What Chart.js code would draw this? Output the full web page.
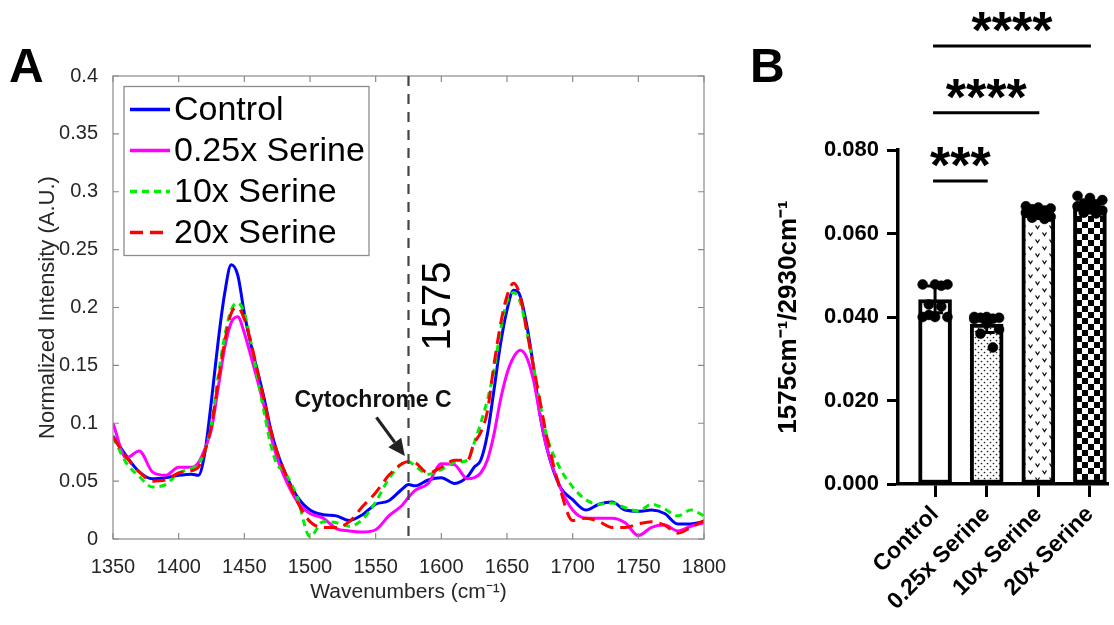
<!DOCTYPE html>
<html><head><meta charset="utf-8">
<script src="https://cdn.jsdelivr.net/npm/chart.js@4.4.1/dist/chart.umd.min.js"></script>
<style>
html,body{margin:0;padding:0;background:#fff;width:1114px;height:625px;overflow:hidden}
#a{position:absolute;left:0;top:0}
#b{position:absolute;left:740px;top:0}
</style></head><body>
<canvas id="a" width="735" height="625"></canvas>
<canvas id="b" width="374" height="625"></canvas>
<script>
// ---------------- Panel A data ----------------
const wavenumbers = [1350,1360,1370,1380,1390,1400,1410,1415,1420,1425,1430,1435,1440,1445,1450,1455,1460,1465,1470,1475,
  1480,1490,1500,1510,1520,1530,1540,1550,1560,1570,1575,1580,1590,1600,1610,1620,1625,1630,1635,1640,
  1645,1650,1655,1660,1665,1670,1675,1680,1690,1700,1710,1720,1730,1740,1750,1760,1770,1780,1790,1800];
const control = [0.089,0.072,0.058,0.052,0.053,0.055,0.056,0.055,0.075,0.120,0.170,0.212,0.237,0.228,0.195,0.168,0.145,0.122,0.095,0.075,
  0.060,0.037,0.025,0.021,0.020,0.016,0.021,0.030,0.033,0.043,0.047,0.046,0.051,0.053,0.048,0.054,0.062,0.068,0.090,0.128,
  0.168,0.198,0.215,0.210,0.185,0.150,0.108,0.080,0.046,0.034,0.025,0.030,0.032,0.025,0.024,0.025,0.022,0.013,0.013,0.015];
const serine025 = [0.100,0.070,0.076,0.058,0.055,0.062,0.062,0.066,0.078,0.095,0.130,0.165,0.187,0.192,0.178,0.158,0.137,0.115,0.090,0.070,
  0.055,0.033,0.022,0.018,0.009,0.007,0.006,0.008,0.020,0.029,0.036,0.042,0.048,0.065,0.064,0.052,0.053,0.057,0.068,0.090,
  0.120,0.143,0.157,0.163,0.157,0.138,0.108,0.080,0.046,0.025,0.018,0.018,0.018,0.014,0.003,0.010,0.012,0.007,0.011,0.014];
const serine10 = [0.088,0.066,0.054,0.045,0.047,0.057,0.061,0.065,0.076,0.100,0.140,0.175,0.198,0.204,0.195,0.170,0.140,0.110,0.082,0.064,
  0.059,0.037,0.002,0.015,0.014,0.011,0.017,0.032,0.052,0.065,0.067,0.063,0.056,0.060,0.066,0.068,0.083,0.100,0.120,0.145,
  0.180,0.205,0.213,0.205,0.180,0.150,0.118,0.090,0.062,0.045,0.034,0.030,0.031,0.027,0.024,0.030,0.026,0.020,0.025,0.020];
const serine20 = [0.088,0.071,0.058,0.050,0.051,0.057,0.059,0.062,0.076,0.098,0.135,0.170,0.195,0.200,0.190,0.170,0.145,0.120,0.095,0.075,
  0.060,0.033,0.015,0.010,0.010,0.015,0.028,0.040,0.055,0.065,0.067,0.066,0.057,0.062,0.068,0.068,0.083,0.092,0.110,0.150,
  0.185,0.210,0.221,0.210,0.180,0.150,0.120,0.090,0.045,0.016,0.018,0.015,0.010,0.010,0.013,0.015,0.012,0.005,0.010,0.016];
const seriesLabels = ['Control','0.25x Serine','10x Serine','20x Serine'];
const markerWavenumber = 1575;

// ---------------- Panel B data ----------------
const groups = ['Control','0.25x Serine','10x Serine','20x Serine'];
const barMeans = [0.0442, 0.0383, 0.0646, 0.0662];
const barErrors = [0.0032, 0.0020, 0.0010, 0.0013];
const ptsControl = [0.0478,0.0478,0.0478,0.0430,0.0425,0.0400,0.0400,0.0400,0.0405,0.0475];
const ptsSerine025 = [0.0400,0.0400,0.0398,0.0398,0.0396,0.0395,0.0385,0.0370,0.0360,0.0327];
const ptsSerine10 = [0.0665,0.0662,0.0660,0.0658,0.0655,0.0650,0.0645,0.0640,0.0638,0.0635];
const ptsSerine20 = [0.0690,0.0685,0.0680,0.0672,0.0670,0.0665,0.0660,0.0655,0.0650,0.0648];
const yTicksB = [0, 0.02, 0.04, 0.06, 0.08];
const brackets = [ {from:0, to:1, y:0.0726, label:'***'}, {from:0, to:2, y:0.0889, label:'****'}, {from:0, to:3, y:0.1049, label:'****'} ];

const FAM = "'Liberation Sans', Arial, Helvetica, sans-serif";

// ---------------- Panel A ----------------
const xy = arr => arr.map((v,i)=>({x:wavenumbers[i], y:v}));
const styleA = [
  {color:'#0000ff', dash:[], order:4},
  {color:'#ff00ff', dash:[], order:3},
  {color:'#00ee00', dash:[7,5], order:2},
  {color:'#ff0000', dash:[13,7], order:1}
];
const seriesA = [control, serine025, serine10, serine20];

const annotA = {
  id:'annotA',
  afterDraw(chart){
    const ctx = chart.ctx, ca = chart.chartArea, xs = chart.scales.x, ys = chart.scales.y;
    ctx.save();
    ctx.strokeStyle = '#8a8a8a'; ctx.lineWidth = 1.2; ctx.setLineDash([]);
    ctx.strokeRect(ca.left, ca.top, ca.right-ca.left, ca.bottom-ca.top);
    ctx.beginPath();
    xs.ticks.forEach(t=>{ const px = xs.getPixelForValue(t.value);
      ctx.moveTo(px, ca.bottom); ctx.lineTo(px, ca.bottom-6);
      ctx.moveTo(px, ca.top); ctx.lineTo(px, ca.top+6); });
    ys.ticks.forEach(t=>{ const py = ys.getPixelForValue(t.value);
      ctx.moveTo(ca.left, py); ctx.lineTo(ca.left+6, py);
      ctx.moveTo(ca.right, py); ctx.lineTo(ca.right-6, py); });
    ctx.stroke();
    const mx = xs.getPixelForValue(markerWavenumber);
    ctx.strokeStyle = '#444'; ctx.lineWidth = 2.2; ctx.setLineDash([10,8]);
    ctx.beginPath(); ctx.moveTo(mx, ca.top); ctx.lineTo(mx, ca.bottom); ctx.stroke();
    ctx.setLineDash([]);
    ctx.save();
    ctx.translate(xs.getPixelForValue(1597), ys.getPixelForValue(0.2012));
    ctx.rotate(-Math.PI/2);
    ctx.fillStyle = '#000'; ctx.font = '40px ' + FAM; ctx.textAlign='center'; ctx.textBaseline='middle';
    ctx.fillText(String(markerWavenumber), 0, 2);
    ctx.restore();
    ctx.fillStyle = '#111'; ctx.font = 'bold 23px ' + FAM; ctx.textAlign='center'; ctx.textBaseline='alphabetic';
    ctx.fillText('Cytochrome C', xs.getPixelForValue(1548), ys.getPixelForValue(0.1138));
    const x1 = xs.getPixelForValue(1550.6), y1 = ys.getPixelForValue(0.1051);
    const x2 = xs.getPixelForValue(1572.2), y2 = ys.getPixelForValue(0.0716);
    const ang = Math.atan2(y2-y1, x2-x1), hl = 17, hw = 8;
    const bx = x2 - hl*Math.cos(ang), by = y2 - hl*Math.sin(ang);
    ctx.strokeStyle = '#222'; ctx.fillStyle = '#222'; ctx.lineWidth = 3.2;
    ctx.beginPath(); ctx.moveTo(x1,y1); ctx.lineTo(bx,by); ctx.stroke();
    ctx.beginPath(); ctx.moveTo(x2,y2);
    ctx.lineTo(bx + hw*Math.sin(ang), by - hw*Math.cos(ang));
    ctx.lineTo(bx - hw*Math.sin(ang), by + hw*Math.cos(ang));
    ctx.closePath(); ctx.fill();
    const lx = ca.left + 11, ly = ca.top + 10.5, lw = 245, lh = 169;
    ctx.fillStyle = '#fff'; ctx.fillRect(lx, ly, lw, lh);
    ctx.strokeStyle = '#8c8c8c'; ctx.lineWidth = 1.3; ctx.strokeRect(lx, ly, lw, lh);
    chart.data.datasets.forEach((ds, i)=>{
      const cy = ly + 23 + i*41;
      ctx.strokeStyle = ds.borderColor; ctx.lineWidth = 3.5; ctx.setLineDash(ds.borderDash || []);
      ctx.beginPath(); ctx.moveTo(lx+6, cy); ctx.lineTo(lx+46, cy); ctx.stroke();
      ctx.setLineDash([]);
      ctx.fillStyle = '#000'; ctx.font = '34px ' + FAM; ctx.textAlign='left'; ctx.textBaseline='middle';
      ctx.fillText(ds.label, lx+50, cy+1);
    });
    ctx.fillStyle = '#000'; ctx.font = 'bold 48px ' + FAM; ctx.textAlign='left'; ctx.textBaseline='alphabetic';
    ctx.fillText('A', 9, 82);
    ctx.restore();
  }
};

new Chart(document.getElementById('a'), {
  type:'line',
  data:{ datasets: seriesA.map((s,i)=>({
    label: seriesLabels[i], data: xy(s), borderColor: styleA[i].color, borderWidth:3,
    borderDash: styleA[i].dash, order: styleA[i].order, pointRadius:0, fill:false,
    cubicInterpolationMode:'monotone'
  })) },
  options:{
    responsive:false, animation:false, devicePixelRatio:1,
    layout:{padding:{left:0, top:76, right:31, bottom:0}},
    plugins:{legend:{display:false}, tooltip:{enabled:false}},
    scales:{
      x:{ type:'linear', min:1350, max:1800,
        ticks:{stepSize:50, autoSkip:false, maxRotation:0, color:'#262626', font:{family:FAM, size:20}, padding:8, callback:v=>String(v)},
        grid:{display:false}, border:{display:false},
        title:{display:true, text:'Wavenumbers (cm⁻¹)', color:'#262626', font:{family:FAM, size:21}, padding:{top:0, bottom:20}},
        afterFit:s=>{ s.height = 86; } },
      y:{ min:0, max:0.4,
        ticks:{stepSize:0.05, color:'#262626', font:{family:FAM, size:20}, padding:7, callback:v=>String(+(+v).toFixed(2))},
        grid:{display:false}, border:{display:false},
        title:{display:true, text:'Normalized Intensity (A.U.)', color:'#262626', font:{family:FAM, size:22}, padding:{top:35, bottom:0}},
        afterFit:s=>{ s.width = 113; } }
    }
  },
  plugins:[annotA]
});

// ---------------- Panel B ----------------
function makePattern(kind){
  const c = document.createElement('canvas');
  const g = c.getContext('2d');
  if (kind === 'dots'){
    c.width = 6; c.height = 6; g.fillStyle = '#fff'; g.fillRect(0,0,6,6);
    g.fillStyle = '#222';
    g.beginPath(); g.arc(1.5,1.5,0.85,0,Math.PI*2); g.fill();
    g.beginPath(); g.arc(4.5,4.5,0.85,0,Math.PI*2); g.fill();
  } else if (kind === 'chevron'){
    c.width = 14; c.height = 14; g.fillStyle = '#fff'; g.fillRect(0,0,14,14);
    g.strokeStyle = '#111'; g.lineWidth = 1.3;
    [[3.5,3],[10.5,10]].forEach(([x,y])=>{ g.beginPath(); g.moveTo(x-2,y-1.5); g.lineTo(x,y+1.5); g.lineTo(x+2,y-1.5); g.stroke(); });
  } else {
    c.width = 12; c.height = 12; g.fillStyle = '#fff'; g.fillRect(0,0,12,12);
    g.fillStyle = '#000'; g.fillRect(0,0,6,6); g.fillRect(6,6,6,6);
  }
  return document.getElementById('b').getContext('2d').createPattern(c, 'repeat');
}
const barFills = ['#ffffff', makePattern('dots'), makePattern('chevron'), makePattern('checker')];
const jitter = [-0.24, 0, 0.24, -0.12, 0.12, -0.24, 0, 0.24, -0.12, 0.12];
const replicateSets = [ptsControl, ptsSerine025, ptsSerine10, ptsSerine20];
const replicatePoints = [];
replicateSets.forEach((arr, gi)=> arr.forEach((v, j)=> replicatePoints.push({x: gi + jitter[j % jitter.length], y: v})));

const annotB = {
  id:'annotB',
  afterDatasetDraw(chart, args){
    if (args.index !== 0) return;
    const ctx = chart.ctx, xs = chart.scales.x, ys = chart.scales.y;
    ctx.save(); ctx.strokeStyle = '#000'; ctx.lineWidth = 3;
    barMeans.forEach((m,i)=>{
      const px = xs.getPixelForValue(i), yt = ys.getPixelForValue(m + barErrors[i]), yb = ys.getPixelForValue(m - barErrors[i]);
      ctx.beginPath(); ctx.moveTo(px, yb); ctx.lineTo(px, yt);
      ctx.moveTo(px-8, yt); ctx.lineTo(px+8, yt);
      ctx.moveTo(px-8, yb); ctx.lineTo(px+8, yb); ctx.stroke();
    });
    ctx.restore();
  },
  afterDraw(chart){
    const ctx = chart.ctx, xs = chart.scales.x, ys = chart.scales.y;
    ctx.save();
    ctx.strokeStyle = '#000'; ctx.fillStyle = '#000'; ctx.lineWidth = 3;
    brackets.forEach(b=>{
      const x1 = xs.getPixelForValue(b.from) - 2, x2 = xs.getPixelForValue(b.to) + 1, py = ys.getPixelForValue(b.y);
      ctx.beginPath(); ctx.moveTo(x1, py); ctx.lineTo(x2, py); ctx.stroke();
      ctx.font = 'bold 52px ' + FAM; ctx.textAlign = 'center'; ctx.textBaseline = 'middle';
      ctx.fillText(b.label, (x1+x2)/2, py - 12);
    });
    ctx.font = 'bold 48px ' + FAM; ctx.textAlign = 'left'; ctx.textBaseline = 'alphabetic';
    ctx.fillText('B', 10, 82);
    ctx.restore();
  }
};

new Chart(document.getElementById('b'), {
  type:'bar',
  data:{ datasets:[
    { type:'bar', label:'Mean', data: barMeans.map((m,i)=>({x:i, y:m})), backgroundColor: barFills,
      borderColor:'#000', borderWidth:4, borderSkipped:false, barThickness:33, order:2 },
    { type:'scatter', label:'Replicates', data: replicatePoints, pointRadius:5, pointBackgroundColor:'#000',
      pointBorderColor:'#000', pointBorderWidth:0.5, order:1 }
  ]},
  options:{
    responsive:false, animation:false, devicePixelRatio:1,
    layout:{padding:{left:0, top:150, right:0, bottom:0}},
    plugins:{legend:{display:false}, tooltip:{enabled:false}},
    scales:{
      x:{ type:'linear', min:-0.718, max:3.36, offset:false,
        afterBuildTicks: s=>{ s.ticks = groups.map((g,i)=>({value:i})); },
        ticks:{ autoSkip:false, maxRotation:45, minRotation:45, color:'#000', font:{family:FAM, size:23, weight:'bold'}, padding:4,
          callback:(v)=>groups[Math.round(v)] },
        grid:{ offset:false, drawOnChartArea:false, drawTicks:true, tickLength:13, tickWidth:3, tickColor:'#000' },
        border:{ display:true, width:3.5, color:'#000' },
        afterFit:s=>{ s.height = 141; } },
      y:{ min:0, max:0.08,
        afterBuildTicks: s=>{ s.ticks = yTicksB.map(v=>({value:v})); },
        ticks:{ color:'#000', font:{family:FAM, size:22, weight:'bold'}, padding:8, callback:v=>(+v).toFixed(3) },
        grid:{ drawOnChartArea:false, drawTicks:true, tickLength:11, tickWidth:3, tickColor:'#000' },
        border:{ display:true, width:3.5, color:'#000' },
        title:{ display:true, text:'1575cm⁻¹/2930cm⁻¹', color:'#000', font:{family:FAM, size:26, weight:'bold'}, padding:{top:33, bottom:0} },
        afterFit:s=>{ s.width = 158; } }
    }
  },
  plugins:[annotB]
});
</script>
</body></html>
